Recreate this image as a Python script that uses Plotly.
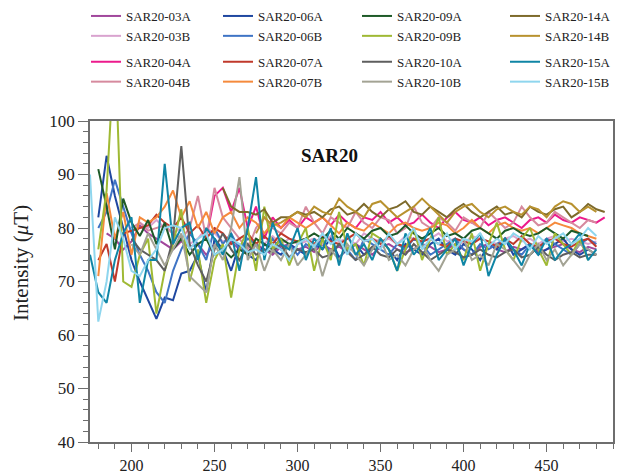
import plotly.graph_objects as go

# ---------------- data ----------------
SERIES_NAMES = ["SAR20-03A", "SAR20-03B", "SAR20-04A", "SAR20-04B",
                "SAR20-06A", "SAR20-06B", "SAR20-07A", "SAR20-07B",
                "SAR20-09A", "SAR20-09B", "SAR20-10A", "SAR20-10B",
                "SAR20-14A", "SAR20-14B", "SAR20-15A", "SAR20-15B"]

# first temperature of each series (step 5)
START_X = {"SAR20-03A": 185, "SAR20-03B": 200, "SAR20-04A": 245, "SAR20-04B": 200,
           "SAR20-06A": 180, "SAR20-06B": 180, "SAR20-07A": 180, "SAR20-07B": 180,
           "SAR20-09A": 180, "SAR20-09B": 180, "SAR20-10A": 200, "SAR20-10B": 200,
           "SAR20-14A": 255, "SAR20-14B": 275, "SAR20-15A": 175, "SAR20-15B": 175}
STEP = 5

SAR20_03A = [79, 78, 76, 77.5, 80.5, 79, 78, 77, 76, 77.5, 76.5, 77, 75, 77, 76, 77.5, 76, 75.5, 77, 76,
             75, 76.5, 77, 76,
             76.5, 75.5, 77, 76, 76.5, 75.5, 77, 76, 75, 76.5, 77, 76, 75.5, 76, 77, 76.5, 75.5, 76,
             77, 76, 75, 76.5, 77, 76, 75.5, 76.5, 76, 77, 75.5, 76, 76.5, 77, 76, 75.5, 76.5, 76]
SAR20_03B = [79, 81, 80, 81.5, 80, 79, 80, 77, 78, 80, 79, 77.5, 78, 76.5, 77, 78, 77, 78.5, 77, 78, 77,
             77.5, 78, 77, 78.5, 77.5, 78, 77, 79, 78, 77.5, 78, 77, 78.5, 78, 77.5, 78, 79, 77.5,
             78, 77, 78.5, 78, 77.5, 77, 78, 78.5, 77.5, 78, 77, 78, 78.5, 77.5, 78, 77.5, 77, 77.5]
SAR20_04A = [78, 86, 87.5, 83, 87.5, 80, 84, 78, 82, 80, 81.5, 80, 82,
             81, 82, 80.5, 82.5, 81, 80, 82, 81.5, 83, 81, 82, 80.5, 81, 82.5, 81, 80, 82, 83, 81.5,
             81, 82, 80.5, 81.5, 82, 81, 80, 81.5, 82, 81, 82.5, 81.5, 81, 82, 81.5, 81, 82]
SAR20_04B = [80, 81, 79.5, 80, 80.5, 79, 78, 80, 86, 78, 87.5, 82, 80, 78, 76, 80, 82, 80, 79, 81, 80,
             84, 81, 79, 82, 81, 80, 83, 81, 80, 82, 81.5, 79, 80, 84, 81, 80, 82, 81, 79.5, 82, 81,
             80, 83, 81.5, 80, 81, 84, 82, 80.5, 81, 83, 82, 81, 80, 81.5, 81]
SAR20_06A = [82, 93.5, 86, 80, 74, 70, 66.5, 63, 67, 66.5, 71.5, 72, 75, 68, 78, 76, 72, 77, 75, 74, 77,
             76, 75, 77, 76,
             75, 77, 76, 78, 74.5, 76, 77, 75, 76, 78, 76, 74, 77, 76, 75, 77, 78, 76, 75, 77, 76, 74,
             77, 76, 78, 75, 76, 77, 75, 76, 77, 78, 76, 75, 76, 75]
SAR20_06B = [80, 83, 89, 84, 79, 75, 72, 68, 66, 72, 76, 79, 77, 74, 80, 77, 79, 76, 78, 77, 75, 78, 76,
             77, 75,
             77, 76, 78, 75, 77, 76, 74, 78, 77, 76, 75, 77, 76, 78, 77, 75, 76, 77, 78, 76, 75, 77, 76,
             77, 78, 76, 75, 77, 76, 78, 77, 76, 75, 77, 78, 77]
SAR20_07A = [74, 77, 70, 79, 79.5, 80, 80.5, 82.5, 81, 80, 82, 79, 80.5, 78, 80, 79, 77, 78, 79, 77,
             78.5, 77, 79, 78, 77.5,
             78, 77, 78.5, 77.5, 77, 78, 79, 77.5, 78, 77, 78.5, 77, 76.5, 78, 77.5, 78, 77, 76.5, 78,
             77.5, 77, 78, 77.5, 76.5, 78, 77, 78.5, 77, 76.5, 77.5, 78, 77, 76.5, 77.5, 78, 76.5]
SAR20_07B = [71, 86.5, 78, 83, 75, 82, 81, 82, 84, 87, 82, 85, 80, 83, 79, 82, 83, 80, 82, 81, 79, 81,
             80, 82, 81,
             80, 81, 82, 80.5, 79, 81, 80, 79.5, 81, 80, 79, 80.5, 81, 80, 79.5, 80, 81, 80.5, 79, 80,
             81.5, 80, 79, 80.5, 81, 80, 79.5, 80, 79, 80, 81, 80.5, 80, 79, 78.5, 78]
SAR20_09A = [91, 84, 76, 85.5, 81, 78.5, 81.5, 77, 81, 76, 78, 75, 77, 78, 75, 76, 74.5, 76, 75, 78, 77,
             76, 78, 77, 77.5,
             78, 79, 78, 79.5, 78, 80, 79, 78, 79.5, 80, 78.5, 79, 80.5, 79, 78, 79, 80, 78.5, 79, 78,
             79.5, 80, 79, 78, 79.5, 80, 79, 78.5, 79, 80, 79, 78, 79.5, 79, 78.5]
SAR20_09B = [76, 87, 115, 70, 69, 75, 78, 64, 72, 77, 83.5, 70, 76, 66, 74, 77, 67, 76, 80, 72, 84, 76,
             78, 73, 77,
             80, 72, 78, 74, 83, 76, 77, 73, 79, 78, 76, 72, 76, 80, 74, 78, 82, 75, 77, 74, 79, 72, 77,
             81, 76, 74, 78, 80, 76, 73, 79, 77, 75, 78, 74]
SAR20_10A = [78, 76, 75, 74, 72, 78, 95.3, 77, 73, 70, 76, 79, 76, 74, 77, 75, 76, 75.5, 77, 74.5, 76,
             75.5, 76, 74.5, 75, 77, 75.5, 74, 75, 76.5, 75, 74.5, 76, 75, 77, 75.5, 74, 75, 76, 75.5,
             74.5, 75, 76, 75, 74.5, 75.5, 76, 74.5, 75, 76.5, 75, 74, 75, 75.5, 74.5, 75, 75]
SAR20_10B = [77, 75, 79, 76, 73, 76, 79, 71, 69.5, 68, 77, 74, 80, 89.5, 74, 77, 72, 76, 74, 77, 73,
             75, 77, 71, 76, 74, 77, 75, 73, 76, 78, 74, 75, 73, 76, 77, 74, 72, 75, 76, 78, 74, 75, 73,
             77, 76, 74, 72, 75, 77, 74, 76, 73, 75, 77, 76, 75]
SAR20_14A = [87.5, 84, 83, 83, 82.5, 83.5, 81, 82, 82, 83, 82.5,
             83, 82, 83.5, 84, 82.5, 83, 84.5, 83, 82, 83.5, 84, 85, 83, 82.5, 84, 83, 82, 83.5, 84.5,
             83, 82, 83, 84, 82.5, 83, 82, 84, 83, 82.5, 83.5, 84, 82, 83, 84.5, 83.5, 83]
SAR20_14B = [79, 82, 80.5, 81, 82, 83,
             82, 84, 83, 82.5, 85.5, 84, 83, 82, 84.5, 85, 83.5, 82, 83, 84, 85.5, 84, 82.5, 81, 83, 84,
             84.5, 83, 82, 83.5, 84, 83, 82.5, 84, 83.5, 82, 84, 85, 84.5, 83, 84, 83]
SAR20_15A = [75, 68, 66, 74, 79, 82, 66, 74, 74, 92, 77, 80, 81, 74, 80, 78, 75, 79, 72, 80, 89.5, 74,
             81, 77, 76, 80,
             74, 78, 76, 80, 73, 79, 75, 77, 74, 78, 76, 72, 79, 75, 77, 80, 74, 76, 78, 73, 77, 79, 71,
             75, 78, 76, 73, 77, 75, 78, 74, 76, 77, 79, 74, 76]
SAR20_15B = [90, 62.5, 70, 82, 78, 72, 71, 74, 76, 80, 80.5, 80, 76, 78, 79, 75, 76, 78, 77, 75.5, 76,
             75, 77, 76, 74, 77,
             78, 76.5, 79, 77, 78, 75, 79, 77.5, 78, 76, 79, 77, 78, 80, 76, 78, 77, 79, 76, 78, 77.5,
             79, 76.5, 78, 77, 79, 78, 76, 78.5, 77, 78, 79, 77, 78, 80, 78.5]

SERIES_VALUES = {"SAR20-03A": SAR20_03A, "SAR20-03B": SAR20_03B, "SAR20-04A": SAR20_04A,
                 "SAR20-04B": SAR20_04B, "SAR20-06A": SAR20_06A, "SAR20-06B": SAR20_06B,
                 "SAR20-07A": SAR20_07A, "SAR20-07B": SAR20_07B, "SAR20-09A": SAR20_09A,
                 "SAR20-09B": SAR20_09B, "SAR20-10A": SAR20_10A, "SAR20-10B": SAR20_10B,
                 "SAR20-14A": SAR20_14A, "SAR20-14B": SAR20_14B, "SAR20-15A": SAR20_15A,
                 "SAR20-15B": SAR20_15B}

COLORS = {"SAR20-03A": "#a1479c", "SAR20-03B": "#d9a3cf", "SAR20-04A": "#ec1a8c",
          "SAR20-04B": "#d68a9e", "SAR20-06A": "#1f47a0", "SAR20-06B": "#3f74c5",
          "SAR20-07A": "#c0392b", "SAR20-07B": "#f58a3c", "SAR20-09A": "#1e5a28",
          "SAR20-09B": "#9fb934", "SAR20-10A": "#5e5e5e", "SAR20-10B": "#a3a394",
          "SAR20-14A": "#7d6a2b", "SAR20-14B": "#b8922f", "SAR20-15A": "#0f85a5",
          "SAR20-15B": "#8fd6ee"}

X_TICKS = [200, 250, 300, 350, 400, 450]
Y_TICKS = [40, 50, 60, 70, 80, 90, 100]

# ---------------- figure ----------------
FONT = "Liberation Serif, Times New Roman, serif"
AXIS_COLOR = "#6e6e6e"

LEGEND_COLUMN = {}
for i, name in enumerate(SERIES_NAMES):
    LEGEND_COLUMN[name] = i // 4  # 03/04 -> col 0, 06/07 -> col 1, ...

fig = go.Figure()
for name in SERIES_NAMES:
    vals = SERIES_VALUES[name]
    xs = [START_X[name] + STEP * i for i in range(len(vals))]
    col = LEGEND_COLUMN[name]
    fig.add_trace(go.Scatter(
        x=xs, y=vals, mode="lines", name=name,
        line=dict(color=COLORS[name], width=2),
        legend="legend" if col == 0 else "legend%d" % (col + 1),
        legendgroup=name[:-1],
        hoverinfo="x+y+name",
    ))

legend_left_px = [86, 218, 357, 505]
legend_common = dict(
    xref="container", yref="container", xanchor="left", yanchor="top",
    orientation="v", tracegroupgap=6, bgcolor="rgba(0,0,0,0)",
    font=dict(family=FONT, size=13, color="#222222"),
    itemwidth=30,
)
layout_legends = {}
for k, lx in enumerate(legend_left_px):
    key = "legend" if k == 0 else "legend%d" % (k + 1)
    layout_legends[key] = dict(x=lx / 624, y=1 - 1 / 475, **legend_common)

fig.update_layout(
    width=624, height=475,
    margin=dict(l=90, r=11, t=121, b=33, autoexpand=False),
    paper_bgcolor="white", plot_bgcolor="white",
    font=dict(family=FONT, color="#222222"),
    showlegend=True,
    **layout_legends,
    annotations=[
        dict(text="<b>SAR20</b>", xref="paper", yref="paper", x=0.457, y=0.894,
             xanchor="center", yanchor="middle", showarrow=False,
             font=dict(family=FONT, size=19, color="#111111")),
        dict(text="Intensity (<i>μ</i>T)", xref="paper", yref="paper",
             x=-0.132, y=0.5576, xanchor="center", yanchor="middle",
             textangle=-90, showarrow=False,
             font=dict(family=FONT, size=21, color="#222222")),
    ],
)

fig.update_xaxes(
    range=[175, 490], tickvals=X_TICKS, ticks="outside", ticklen=8, tickwidth=1.2,
    tickcolor=AXIS_COLOR, showline=True, linecolor=AXIS_COLOR, linewidth=1.5, mirror=True,
    showgrid=False, zeroline=False,
    tickfont=dict(family=FONT, size=16, color="#222222"),
    minor=dict(dtick=10, tick0=0, ticks="outside", ticklen=5, tickcolor=AXIS_COLOR, tickwidth=1.2,
               showgrid=False),
)
fig.update_yaxes(
    range=[40, 100], tickvals=Y_TICKS, ticks="outside", ticklen=10, tickwidth=1.2,
    tickcolor=AXIS_COLOR, showline=True, linecolor=AXIS_COLOR, linewidth=1.5, mirror=True,
    showgrid=False, zeroline=False,
    tickfont=dict(family=FONT, size=17, color="#222222"),
    minor=dict(dtick=2, tick0=0, ticks="outside", ticklen=5, tickcolor=AXIS_COLOR, tickwidth=1.2,
               showgrid=False),
)

fig.write_html("out.html")
